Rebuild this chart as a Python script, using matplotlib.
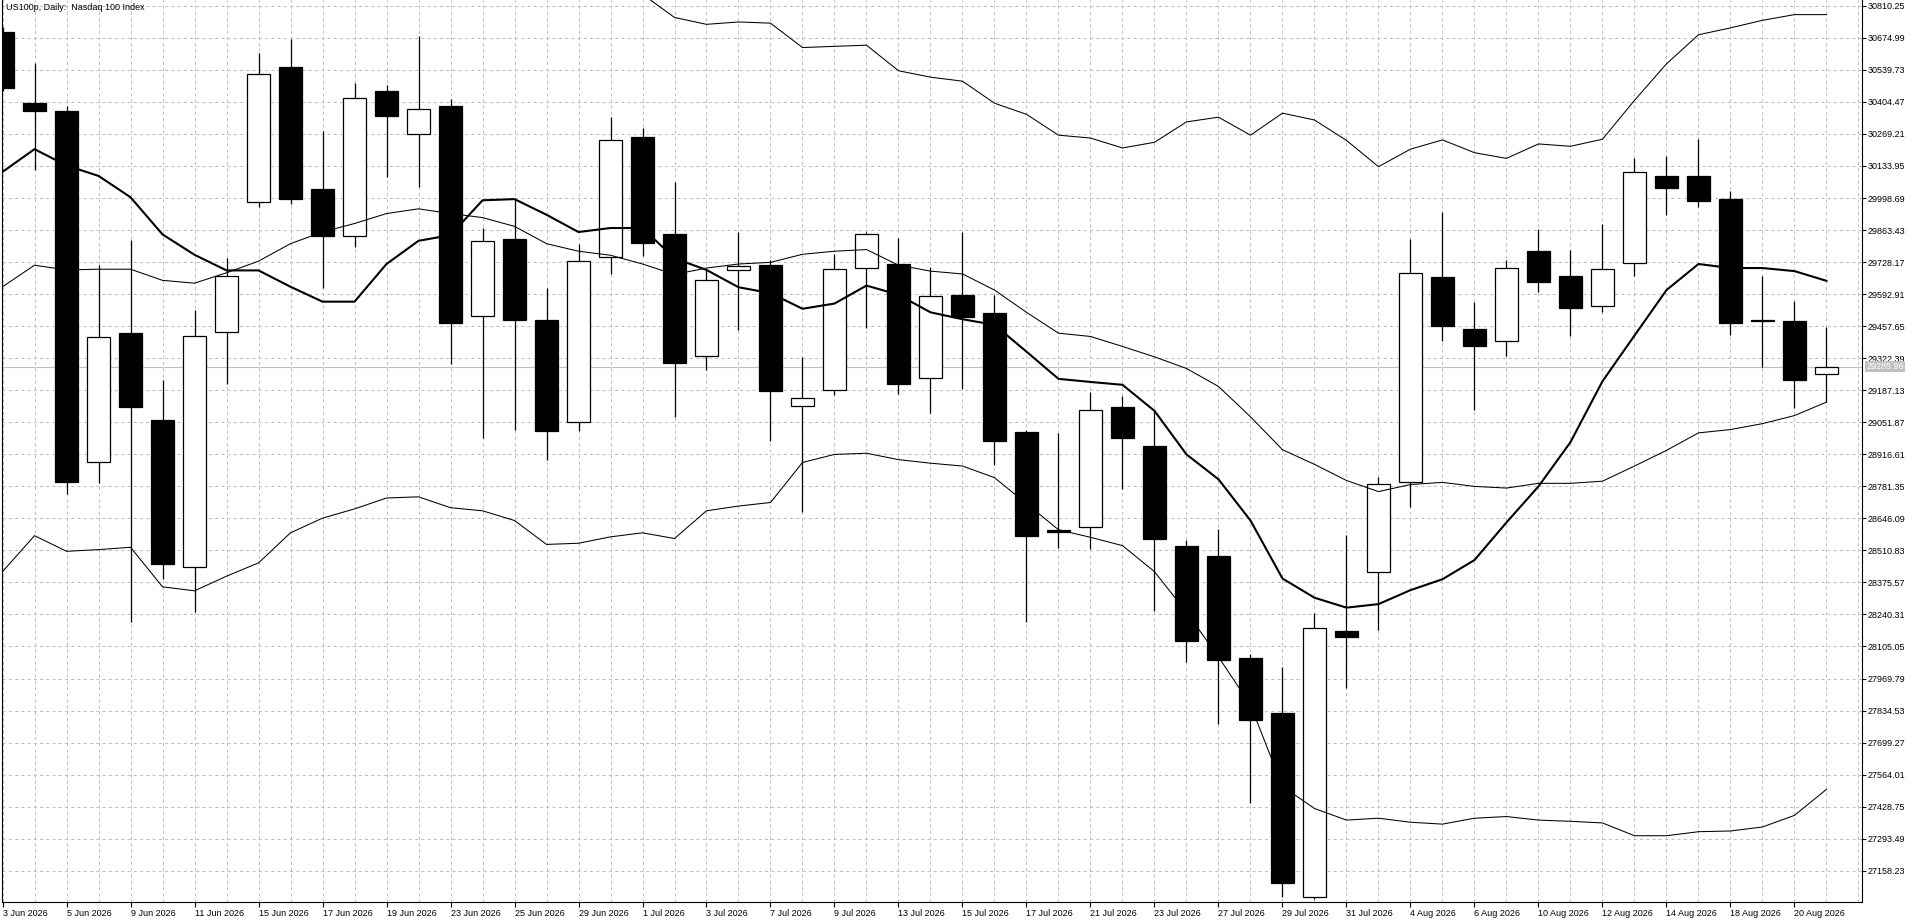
import matplotlib
matplotlib.use("Agg")
import matplotlib.pyplot as plt
import matplotlib.transforms as mtransforms

# daily candles, 3 Jun 2026 .. 21 Aug 2026 (one entry per trading day)
opens = [30700, 30401, 30367, 28882, 29428, 29061, 28441, 29433, 29982, 30553,
         30036, 29840, 30450, 30271, 30386, 29499, 29825, 29485, 29051, 29749,
         30256, 29847, 29333, 29695, 29715, 29122, 29186, 29705, 29720, 29237,
         29590, 29514, 29012, 28595, 28610, 29117, 28953, 28529, 28487, 28058,
         27823, 27049, 28171, 28421, 28799, 29666, 29445, 29394, 29776, 29668,
         29543, 29725, 30092, 30092, 29994, 29484, 29480, 29257]
highs = [30720, 30570, 30386, 29715, 29823, 29232, 29526, 29744, 30609, 30668,
         30281, 30484, 30475, 30683, 30416, 29874, 29994, 29619, 29806, 30340,
         30293, 30065, 29698, 29857, 29735, 29328, 29764, 29855, 29830, 29708,
         29857, 29590, 29021, 29007, 29181, 29164, 29100, 28556, 28600, 28075,
         28017, 28247, 28575, 28820, 29825, 29940, 29561, 29739, 29867, 29779,
         29889, 30168, 30176, 30247, 30029, 29668, 29562, 29455]
lows = [30450, 30119, 28747, 28796, 28208, 28389, 28249, 29213, 29960, 29972,
        29617, 29793, 30087, 30046, 29298, 28987, 29019, 28892, 29014, 29676,
        29752, 29073, 29274, 29443, 28972, 28673, 29166, 29450, 29171, 29090,
        29191, 28870, 28210, 28522, 28517, 28769, 28254, 28039, 27777, 27443,
        27049, 27040, 27929, 28174, 28693, 29396, 29105, 29330, 29602, 29418,
        29516, 29668, 29926, 29960, 29421, 29286, 29110, 29137]
closes = [30462, 30364, 28801, 29411, 29115, 28453, 29416, 29668, 30521, 29994,
          29837, 30423, 30347, 30374, 29470, 29818, 29482, 29014, 29732, 30244,
          29808, 29301, 29654, 29710, 29183, 29156, 29698, 29845, 29215, 29583,
          29497, 28972, 28573, 28590, 29102, 28985, 28561, 28127, 28049, 27796,
          27105, 28183, 28147, 28791, 29683, 29460, 29372, 29705, 29646, 29534,
          29698, 30107, 30041, 29985, 29470, 29480, 29230, 29285.96]

# indicator lines
ma_fast = [30109, 30205, 30136, 30092, 30002, 29845, 29759, 29693, 29693, 29624,
           29561, 29561, 29720, 29818, 29842, 29989, 29994, 29928, 29855, 29872,
           29872, 29744, 29695, 29622, 29597, 29531, 29553, 29629, 29590, 29516,
           29487, 29463, 29350, 29235, 29222, 29210, 29100, 28916, 28811, 28637,
           28392, 28311, 28269, 28284, 28343, 28389, 28470, 28629, 28781, 28968,
           29225, 29418, 29610, 29720, 29703, 29703, 29690, 29649]
bb_mid = [29624, 29715, 29695, 29698, 29698, 29651, 29639, 29683, 29732, 29806,
          29855, 29891, 29933, 29953, 29933, 29916, 29879, 29806, 29774, 29757,
          29720, 29676, 29703, 29720, 29727, 29761, 29774, 29781, 29715, 29690,
          29678, 29610, 29516, 29428, 29414, 29372, 29328, 29279, 29203, 29075,
          28936, 28874, 28806, 28759, 28789, 28798, 28781, 28774, 28794, 28794,
          28803, 28867, 28933, 29007, 29021, 29046, 29080, 29137]
bb_upper = [31150, 31120, 31200, 31230, 31260, 31300, 31320, 31300, 31280, 31250,
            31200, 31150, 31100, 31060, 31040, 31020, 31000, 30990, 30960, 30930,
            30859, 30761, 30732, 30742, 30737, 30634, 30639, 30644, 30536, 30509,
            30492, 30399, 30352, 30264, 30252, 30210, 30234, 30320, 30340, 30264,
            30357, 30328, 30242, 30131, 30205, 30244, 30190, 30166, 30227, 30217,
            30247, 30411, 30565, 30688, 30717, 30749, 30773, 30773]
bb_lower = [28421, 28573, 28507, 28514, 28524, 28357, 28340, 28402, 28458, 28585,
            28647, 28686, 28732, 28737, 28691, 28678, 28637, 28536, 28541, 28568,
            28585, 28561, 28678, 28698, 28713, 28882, 28916, 28921, 28894, 28879,
            28867, 28818, 28708, 28598, 28566, 28531, 28421, 28250, 28061, 27858,
            27514, 27421, 27372, 27380, 27363, 27355, 27380, 27387, 27372, 27367,
            27360, 27306, 27306, 27323, 27326, 27343, 27392, 27502]

date_labels = ["3 Jun 2026", "5 Jun 2026", "9 Jun 2026", "11 Jun 2026", "15 Jun 2026",
               "17 Jun 2026", "19 Jun 2026", "23 Jun 2026", "25 Jun 2026", "29 Jun 2026",
               "1 Jul 2026", "3 Jul 2026", "7 Jul 2026", "9 Jul 2026", "13 Jul 2026",
               "15 Jul 2026", "17 Jul 2026", "21 Jul 2026", "23 Jul 2026", "27 Jul 2026",
               "29 Jul 2026", "31 Jul 2026", "4 Aug 2026", "6 Aug 2026", "10 Aug 2026",
               "12 Aug 2026", "14 Aug 2026", "18 Aug 2026", "20 Aug 2026"]
price_ticks = [27158.23, 27293.49, 27428.75, 27564.01, 27699.27, 27834.53, 27969.79,
               28105.05, 28240.31, 28375.57, 28510.83, 28646.09, 28781.35, 28916.61,
               29051.87, 29187.13, 29322.39, 29457.65, 29592.91, 29728.17, 29863.43,
               29998.69, 30133.95, 30269.21, 30404.47, 30539.73, 30674.99, 30810.25]
last_price = 29285.96

plt.rcParams["font.family"] = ["Liberation Sans", "DejaVu Sans"]
FS = 6.5
GRID = "#c0c0c0"

W, H = 1920, 923
fig = plt.figure(figsize=(W / 100, H / 100), dpi=100)
ax = fig.add_axes([2 / W, 21 / H, 1860 / W, 902 / H])

n = len(opens)
idx = list(range(n))

# wicks, then bodies on top
ax.vlines(idx, lows, highs, color="black", linewidth=0.9, zorder=2)
bottoms = [min(o, c) for o, c in zip(opens, closes)]
heights = [abs(c - o) for o, c in zip(opens, closes)]
fills = ["white" if c >= o else "black" for o, c in zip(opens, closes)]
ax.bar(idx, heights, bottom=bottoms, width=0.72, color=fills,
       edgecolor="black", linewidth=0.9, zorder=3)

ax.axhline(last_price, color=GRID, linewidth=0.8, zorder=1.5)

ax.plot(idx, bb_upper, color="black", linewidth=0.75, zorder=4)
ax.plot(idx, bb_mid, color="black", linewidth=0.75, zorder=4)
ax.plot(idx, bb_lower, color="black", linewidth=0.75, zorder=4)
ax.plot(idx, ma_fast, color="black", linewidth=1.5, zorder=4)

ax.set_xlim(-0.016, 58.11)
ax.set_ylim(27026.2, 30834.75)

# axes / ticks
ax.set_xticks(idx[::2])
ax.set_xticklabels(date_labels, fontsize=FS)
ax.set_xticks(range(n + 1), minor=True)
for lab in ax.get_xticklabels():
    lab.set_ha("left")
ax.tick_params(axis="x", which="major", direction="out", length=3.5, width=0.8, pad=1.5)
ax.tick_params(axis="x", which="minor", length=0)

ax.yaxis.tick_right()
ax.set_yticks(price_ticks)
ax.set_yticklabels([f"{v:.2f}" for v in price_ticks], fontsize=FS)
ax.tick_params(axis="y", direction="out", length=3, width=0.8, pad=1.2)

ax.grid(which="both", axis="x", color=GRID, linestyle=(0, (3, 3)), linewidth=0.75, zorder=0)
ax.grid(which="major", axis="y", color=GRID, linestyle=(0, (3, 3)), linewidth=0.75, zorder=0)
ax.set_axisbelow(True)

for side in ("left", "bottom", "right"):
    ax.spines[side].set_color("black")
    ax.spines[side].set_linewidth(0.8)
ax.spines["top"].set_visible(False)

# last price tag on the scale
trans = mtransforms.blended_transform_factory(ax.transAxes, ax.transData)
ax.text(1.0022, last_price, f"{last_price:.2f}", transform=trans, ha="left", va="center",
        fontsize=FS, color="white", clip_on=False, zorder=6,
        bbox=dict(boxstyle="square,pad=0.12", fc=GRID, ec="none"))

fig.text(6 / W, 1 - 3 / H, "US100p, Daily:  Nasdaq 100 Index", ha="left", va="top", fontsize=FS)

fig.savefig("out.png", dpi=100)
